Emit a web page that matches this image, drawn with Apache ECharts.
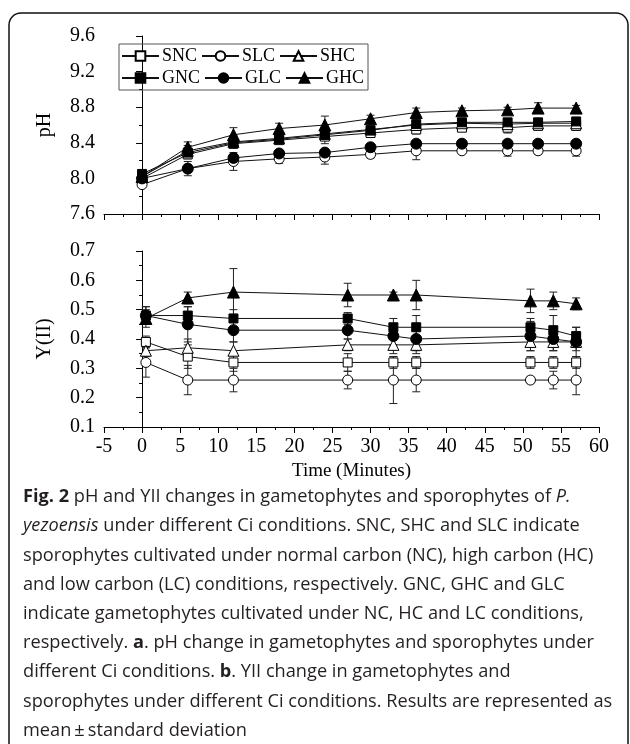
<!DOCTYPE html>
<html>
<head>
<meta charset="utf-8">
<script src="https://cdn.jsdelivr.net/npm/echarts@6/dist/echarts.min.js"></script>
<style>
  html, body { margin: 0; padding: 0; background: #fff; }
  #chart { width: 630px; height: 744px; }
</style>
</head>
<body>
<div id="chart"></div>
<script>
// sampling times (minutes)
const phTime = [0, 6, 12, 18, 24, 30, 36, 42, 48, 52, 57];
const yTime = [0.5, 6, 12, 27, 33, 36, 51, 54, 57];

// pH means and sd
const phSNC = [8.00, 8.27, 8.39, 8.43, 8.47, 8.51, 8.55, 8.57, 8.57, 8.59, 8.59];
const phSLC = [7.93, 8.11, 8.19, 8.22, 8.24, 8.27, 8.31, 8.31, 8.31, 8.31, 8.31];
const phSHC = [8.02, 8.31, 8.41, 8.45, 8.50, 8.55, 8.60, 8.62, 8.61, 8.62, 8.62];
const phGNC = [8.05, 8.29, 8.40, 8.44, 8.49, 8.54, 8.61, 8.63, 8.63, 8.63, 8.64];
const phGLC = [8.00, 8.11, 8.23, 8.28, 8.29, 8.35, 8.39, 8.39, 8.39, 8.39, 8.39];
const phGHC = [8.02, 8.35, 8.49, 8.56, 8.60, 8.67, 8.74, 8.76, 8.77, 8.79, 8.79];

const phSdSNC = [0.02, 0.05, 0.05, 0.03, 0.04, 0.04, 0.05, 0.03, 0.06, 0.04, 0.05];
const phSdSLC = [0.03, 0.04, 0.10, 0.05, 0.08, 0.04, 0.10, 0.03, 0.06, 0.04, 0.06];
const phSdSHC = [0.02, 0.06, 0.07, 0.04, 0.05, 0.04, 0.05, 0.03, 0.05, 0.03, 0.03];
const phSdGNC = [0.02, 0.05, 0.05, 0.03, 0.10, 0.05, 0.04, 0.03, 0.03, 0.04, 0.03];
const phSdGLC = [0.03, 0.08, 0.04, 0.03, 0.03, 0.03, 0.03, 0.02, 0.02, 0.02, 0.02];
const phSdGHC = [0.02, 0.06, 0.08, 0.06, 0.10, 0.04, 0.05, 0.03, 0.03, 0.06, 0.03];

// Y(II) means and sd
const ySNC = [0.39, 0.34, 0.32, 0.32, 0.32, 0.32, 0.32, 0.32, 0.32];
const ySLC = [0.32, 0.26, 0.26, 0.26, 0.26, 0.26, 0.26, 0.26, 0.26];
const ySHC = [0.36, 0.37, 0.36, 0.38, 0.38, 0.38, 0.39, 0.39, 0.39];
const yGNC = [0.48, 0.48, 0.47, 0.47, 0.44, 0.44, 0.44, 0.43, 0.41];
const yGLC = [0.48, 0.45, 0.43, 0.43, 0.41, 0.40, 0.41, 0.40, 0.39];
const yGHC = [0.47, 0.54, 0.56, 0.55, 0.55, 0.55, 0.53, 0.53, 0.52];

const ySdSNC = [0.02, 0.04, 0.03, 0.03, 0.02, 0.02, 0.02, 0.02, 0.02];
const ySdSLC = [0.05, 0.05, 0.04, 0.03, 0.08, 0.04, 0.01, 0.03, 0.05];
const ySdSHC = [0.02, 0.03, 0.03, 0.02, 0.03, 0.03, 0.03, 0.03, 0.03];
const ySdGNC = [0.03, 0.03, 0.03, 0.02, 0.03, 0.04, 0.03, 0.05, 0.03];
const ySdGLC = [0.03, 0.06, 0.04, 0.03, 0.03, 0.04, 0.05, 0.04, 0.05];
const ySdGHC = [0.03, 0.02, 0.08, 0.04, 0.01, 0.05, 0.04, 0.03, 0.02];

const names = ['SNC', 'SLC', 'SHC', 'GNC', 'GLC', 'GHC'];
const symbols = ['rect', 'circle', 'triangle', 'rect', 'circle', 'triangle'];
const symbolSizes = [9, 10, 11, 9, 11, 12];
const phMeans = [phSNC, phSLC, phSHC, phGNC, phGLC, phGHC];
const phSds = [phSdSNC, phSdSLC, phSdSHC, phSdGNC, phSdGLC, phSdGHC];
const yMeans = [ySNC, ySLC, ySHC, yGNC, yGLC, yGHC];
const ySds = [ySdSNC, ySdSLC, ySdSHC, ySdGNC, ySdGLC, ySdGHC];

const serif = 'Liberation Serif';
const sans = 'Open Sans';

function errorBars(params, api) {
  const x = api.value(0);
  const lo = api.coord([x, api.value(1)]);
  const hi = api.coord([x, api.value(2)]);
  const w = 4;
  const st = { stroke: '#222', lineWidth: 1 };
  return {
    type: 'group',
    children: [
      { type: 'line', shape: { x1: lo[0], y1: lo[1], x2: hi[0], y2: hi[1] }, style: st },
      { type: 'line', shape: { x1: lo[0] - w, y1: lo[1], x2: lo[0] + w, y2: lo[1] }, style: st },
      { type: 'line', shape: { x1: hi[0] - w, y1: hi[1], x2: hi[0] + w, y2: hi[1] }, style: st }
    ]
  };
}

const series = [];
function addPanel(times, means, sds, idx) {
  names.forEach(function (name, i) {
    const filled = i >= 3;
    series.push({
      name: name + ' sd',
      type: 'custom',
      xAxisIndex: idx,
      yAxisIndex: idx,
      renderItem: errorBars,
      data: times.map(function (t, k) { return [t, means[i][k] - sds[i][k], means[i][k] + sds[i][k]]; }),
      z: 1,
      silent: true
    });
    series.push({
      name: name,
      type: 'line',
      xAxisIndex: idx,
      yAxisIndex: idx,
      symbol: symbols[i],
      symbolSize: symbolSizes[i],
      showAllSymbol: true,
      data: times.map(function (t, k) { return [t, means[i][k]]; }),
      lineStyle: { color: '#111', width: 1 },
      itemStyle: { color: filled ? '#000' : '#fff', borderColor: '#000', borderWidth: 1 },
      z: filled ? 4 : 3
    });
  });
}
addPanel(phTime, phMeans, phSds, 0);
addPanel(yTime, yMeans, ySds, 1);

const lineBlack = { color: '#000', width: 1 };
const labelFont = 20;

function xAxis(idx, showLabel) {
  return {
    type: 'value', gridIndex: idx, min: -5, max: 60, interval: 5,
    axisLine: { lineStyle: lineBlack },
    axisTick: { show: true, length: 6, lineStyle: lineBlack },
    minorTick: { show: true, splitNumber: 2, length: 3, lineStyle: lineBlack },
    splitLine: { show: false },
    axisLabel: { show: showLabel, color: '#000', fontFamily: serif, fontSize: labelFont, margin: 10 },
    name: showLabel ? 'Time (Minutes)' : '',
    nameLocation: 'middle',
    nameGap: 35,
    nameTextStyle: { color: '#000', fontFamily: serif, fontSize: 19 }
  };
}
function yAxis(idx, min, max, interval, name) {
  return {
    type: 'value', gridIndex: idx, min: min, max: max, interval: interval,
    axisLine: { show: true, lineStyle: lineBlack },
    axisTick: { show: true, length: 6, lineStyle: lineBlack },
    minorTick: { show: true, splitNumber: 2, length: 3, lineStyle: lineBlack },
    splitLine: { show: false },
    axisLabel: {
      color: '#000', fontFamily: serif, fontSize: labelFont, margin: 9,
      formatter: function (v) { return v.toFixed(1); }
    },
    name: name,
    nameLocation: 'middle',
    nameGap: 49,
    nameTextStyle: { color: '#000', fontFamily: serif, fontSize: 20 }
  };
}

// caption lines, rich text for bold / italic pieces
const captionLines = [
  '{b|Fig. 2} pH and YII changes in gametophytes and sporophytes of {i|P.}',
  '{i|yezoensis} under different Ci conditions. SNC, SHC and SLC indicate',
  'sporophytes cultivated under normal carbon (NC), high carbon (HC)',
  'and low carbon (LC) conditions, respectively. GNC, GHC and GLC',
  'indicate gametophytes cultivated under NC, HC and LC conditions,',
  'respectively. {b|a}. pH change in gametophytes and sporophytes under',
  'different Ci conditions. {b|b}. YII change in gametophytes and',
  'sporophytes under different Ci conditions. Results are represented as',
  'mean\u2009\u00b1\u2009standard deviation'
];
const captionFont = 18.2;
const captionGraphics = captionLines.map(function (line, i) {
  return {
    type: 'text',
    left: 23,
    top: 488 + i * 29.2,
    style: {
      text: line,
      fontFamily: sans,
      fontSize: captionFont,
      fill: '#231f20',
      rich: {
        b: { fontFamily: sans, fontSize: captionFont, fontWeight: 'bold', fill: '#231f20' },
        i: { fontFamily: sans, fontSize: captionFont, fontStyle: 'italic', fill: '#231f20' }
      }
    }
  };
});

const chart = echarts.init(document.getElementById('chart'), null, { renderer: 'canvas' });
const option = {
  backgroundColor: '#fff',
  animation: false,
  legend: {
    data: names,
    left: 119,
    top: 44,
    width: 290,
    orient: 'horizontal',
    padding: [3, 4, 3, 2],
    itemGap: 4,
    itemWidth: 37,
    itemHeight: 12,
    borderColor: '#555',
    borderWidth: 1,
    textStyle: { color: '#000', fontFamily: serif, fontSize: 18, lineHeight: 18, padding: [0, 0, 0, -2] }
  },
  grid: [
    { left: 104, right: 31, top: 36, height: 178 },
    { left: 104, right: 31, top: 251, height: 176 }
  ],
  xAxis: [xAxis(0, false), xAxis(1, true)],
  yAxis: [
    yAxis(0, 7.6, 9.6, 0.4, 'pH'),
    yAxis(1, 0.1, 0.7, 0.1, 'Y(II)')
  ],
  series: series,
  graphic: [
    {
      type: 'rect',
      shape: { x: 9, y: 13, width: 619, height: 760, r: 12 },
      style: { fill: 'none', stroke: '#111', lineWidth: 1.5 },
      silent: true
    }
  ].concat(captionGraphics)
};
chart.setOption(option);
</script>
</body>
</html>
